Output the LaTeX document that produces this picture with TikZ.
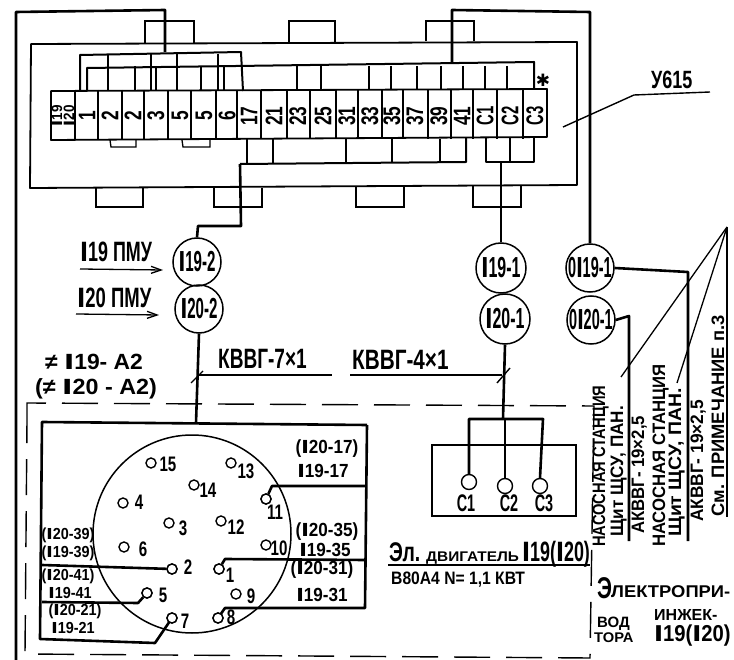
\documentclass[tikz,border=0pt]{standalone}
\usepackage{graphicx}
\usepackage{fontspec}
\setmainfont{Liberation Sans}
\newfontfamily\symfont{DejaVu Sans}
\usetikzlibrary{arrows.meta}
\newcommand{\bb}{\scalebox{1.6}[1]{I}}
\newcommand{\T}[3]{\scalebox{#2}[1]{\fontsize{#1}{#1}\selectfont\bfseries #3}}
\tikzset{
  wire/.style={line width=2.6pt,line join=round},
  wirem/.style={line width=2pt,line join=round},
  boxl/.style={line width=1.8pt,line join=round},
  thinl/.style={line width=1.3pt},
  tag/.style={draw,circle,line width=1.5pt,minimum size=48pt,inner sep=0pt},
  pin/.style={draw,circle,line width=1.4pt,minimum size=10pt,inner sep=0pt,fill=white},
  term/.style={draw,circle,line width=1.4pt,minimum size=15pt,inner sep=0pt,fill=white},
  txt/.style={inner sep=0pt},
  cell/.style={inner sep=0pt,rotate=90},
  vert/.style={inner sep=0pt,rotate=90,anchor=base west}
}
\begin{document}
\begin{tikzpicture}[x=1pt,y=-1pt]
\useasboundingbox (0,0) rectangle (734,660);
% panel
\draw[boxl] (31,44) -- (577,42) -- (577,185) -- (30,188) -- cycle;
\foreach \a/\b/\yy in {145/194/43,289/335/43,426/474/41}
  \draw[line width=1.4pt] (\a,\yy) -- (\a,21) -- (\b,21) -- (\b,\yy);
\foreach \a/\b/\yy in {96/143/188,214/262/188,356/404/187,473/521/186}
  \draw[line width=1.4pt] (\a,\yy) -- (\a,207) -- (\b,207) -- (\b,\yy);
% strip
\draw[boxl] (51,91) -- (547,89) -- (547,137) -- (51,140) -- cycle;
\foreach \x in {75,98,122,144,168,191,216,237,261,287,310,336,358,382,403,428,451,473,497,523}
  \draw[line width=1.3pt] (\x,90) -- (\x,139);
\foreach \a/\t in {87/1,110/2,133/2,156/3,180/5,204/5,227/6,249/17,274/21,298/23,323/25,347/31,370/33,392/35,415/37,439/39,462/41}
  \node[cell] at (\a,116) {\T{24}{.72}{\t}};
\foreach \a/\t in {485/C1,510/C2,535/C3}
  \node[cell] at (\a,116) {\T{24}{.62}{\t}};
\node[cell] (u19) at (57,116) {\T{15}{.9}{\bb19}};
\node[cell] (u20) at (69,116) {\T{15}{.9}{\bb20}};
\node[txt] (star) at (543,80) {\symfont\fontsize{17}{17}\selectfont ✱};
% stubs under the strip
\draw[thinl] (110,140) -- (111,147) -- (136,147) -- (136,140);
\draw[thinl] (182,140) -- (183,147) -- (210,147) -- (210,140);
% tags
\node[tag] (a19) at (197,262) {\T{29}{.52}{\bb19-2}};
\node[tag] (a20) at (199,309) {\T{29}{.52}{\bb20-2}};
\node[tag,minimum size=50pt] (b19) at (501,268) {\T{29}{.55}{\bb19-1}};
\node[tag,minimum size=50pt] (b20) at (505,319) {\T{29}{.55}{\bb20-1}};
\node[tag] (c19) at (590,268) {\T{29}{.5}{0\bb19-1}};
\node[tag] (c20) at (591,320) {\T{29}{.5}{0\bb20-1}};
% top wires
\coordinate (jA) at (165,52);
\coordinate (jB) at (452,63);
\draw[wire] (jA) -- (165,10) -- (16,12) -- (16,660);
\draw[wire] (jB) -- (452,10) -- (590,12) -- (c19.north);
\draw[wirem] (80,91) -- (80,55) -- (241,52) -- (243,91);
\foreach \x in {108,151,177,218} \draw[wirem] (\x,54) -- (\x,91);
\draw[wirem] (87,91) -- (87,68) -- (534,62) -- (534,89);
\foreach \x in {135,156,201,224,297,321,369,391,417,441,463,485,507}
  \draw[wirem] (\x,66) -- (\x,90);
% bottom wires
\draw[wirem] (240,164) -- (466,162) -- (466,138);
\foreach \x in {247,273,346,392,440} \draw[wirem] (\x,139) -- (\x,163);
\draw[wire] (240,164) -- (241,226) -- (198,226) -- (a19.north);
\draw[wirem] (486,138) -- (486,162) -- (534,162) -- (534,137);
\draw[wirem] (510,138) -- (510,162);
\draw[wire] (501,162) -- (b19.north);
% wires to the right
\draw[wire] (c19.east) -- (688,272) -- (688,541);
\draw[wire] (c20.east) -- (629,316) -- (629,541);
% leaders
\coordinate (lead) at (727,227);
\draw[thinl] (lead) -- (621,377);
\draw[thinl] (lead) -- (677,383);
\draw[thinl] (lead) -- (727,517);
\draw[line width=1.4pt] (563,127) -- (634,95) -- (710,92);
\node[txt,anchor=base west] (u) at (651,89) {\T{25}{.72}{У615}};
% left labels
\node[txt,anchor=base west] (l19) at (80,262) {\T{28}{.64}{\bb19 ПМУ}};
\node[txt,anchor=base west] (l20) at (77,308) {\T{28}{.66}{\bb20 ПМУ}};
\coordinate (ar1) at (80,269); \coordinate (ar2) at (76,314);
\draw[thinl,-{Straight Barb[length=10pt,width=7pt]}] (ar1) -- (163,270);
\draw[thinl,-{Straight Barb[length=10pt,width=7pt]}] (ar2) -- (159,315);
\node[txt,anchor=base west] (n19) at (45,370) {\T{22}{1.04}{≠ \bb19- А2}};
\node[txt,anchor=base west] (n20) at (35,395) {\T{22}{1.06}{(≠ \bb20 - А2)}};
% cable
\draw[wire] (a20.south) -- (196,423);
\draw[wire] (b20.south) -- (503,419);
\draw[thinl] (199,375) -- (332,375);
\draw[thinl] (350,375) -- (502,375);
\draw[line width=1.4pt] (191,383) -- (203,371);
\draw[line width=1.4pt] (497,383) -- (510,368);
\node[txt,anchor=base west] (k7) at (218,369) {\T{28}{.68}{КВВГ-7×1}};
\node[txt,anchor=base west] (k4) at (352,370) {\T{28}{.74}{КВВГ-4×1}};
% dashed border
\draw[line width=1.4pt,dash pattern=on 36pt off 16pt] (27,420) -- (27,403) -- (594,406) -- (590,658) -- (25,654) -- cycle;
% connector box
\draw[wire] (367,425) -- (42,422) -- (40,639) -- (155,643) -- (172,618);
\draw[wire] (367,425) -- (365,608) -- (225,608) -- (218,618);
\draw[line width=1.5pt] (192,534) circle (99);
\foreach \n/\x/\y in {15/151/463,13/231/463,14/194/485,4/123/503,11/266/499,3/169/523,12/221/521,6/124/547,10/266/545,2/172/569,1/219/569,5/147/593,9/236/594,7/172/618,8/218/618}
  \node[pin] (p\n) at (\x,\y) {};
\draw[wire] (365,486) -- (272,486) -- (p11);
\draw[wire] (365,560) -- (225,559) -- (p1);
\draw[wire] (42,565) -- (p2);
\draw[wire] (42,602) -- (138,603) -- (p5);
\foreach \n/\x/\y in {11/266/499,2/172/569,1/219/569,5/147/593,7/172/618,8/218/618}
  \node[pin] at (\x,\y) {};
\foreach \t/\x/\y in {15/168/464,13/246/471,14/208/490,4/139/502,11/275/512,3/183/528,12/236/527,6/143/549,10/279/548,2/188/567,1/230/575,5/163/595,9/251/596,7/185/621,8/231/617}
  \node[txt] at (\x,\y) {\T{21}{.72}{\t}};
\foreach \t/\x/\y in {(\bb20-17)/327/449,\bb19-17/323/471,(\bb20-35)/327/532,\bb19-35/325/550,(\bb20-31)/322/570,\bb19-31/322/595}
  \node[txt] at (\x,\y) {\T{19}{.9}{\t}};
\foreach \t/\x/\y in {(\bb20-39)/68/535,(\bb19-39)/68/553,(\bb20-41)/68/576,\bb19-41/70/593,(\bb20-21)/75/611,\bb19-21/73/628}
  \node[txt] at (\x,\y) {\T{16}{.9}{\t}};
% motor box
\draw[line width=1.4pt] (432,445) rectangle (576,516);
\node[term] (t1) at (469,482) {};
\node[term] (t2) at (505,486) {};
\node[term] (t3) at (540,486) {};
\draw[wire] (t1.north) -- (469,419) -- (543,419) -- (t3.north);
\draw[wire] (505,419) -- (t2.north);
\foreach \t/\x in {C1/466,C2/509,C3/544} \node[txt] at (\x,503) {\T{24}{.6}{\t}};
% motor text
\node[txt,anchor=base west] (m1) at (389,561) {\T{27}{.72}{Эл.}};
\node[txt,anchor=base west] (m1b) at (426,561) {\T{14}{1.1}{ДВИГАТЕЛЬ}};
\node[txt,anchor=base west] (m1c) at (522,561) {\T{28}{.64}{\bb19(\bb20)}};
\draw[line width=1.4pt] (388,565) -- (590,565);
\node[txt,anchor=base west] (m2) at (391,584) {\T{18}{.87}{В80А4 N= 1,1 КВТ}};
\node[txt,anchor=base west] (e1a) at (597,598) {\T{30}{.7}{Э}};
\node[txt,anchor=base west] (e1) at (611,597) {\T{17}{1.08}{ЛЕКТРОПРИ-}};
\node[txt,anchor=base west] (e2a) at (597,627) {\T{15}{1}{ВОД}};
\node[txt,anchor=base west] (e2) at (654,620) {\T{16}{1}{ИНЖЕК-}};
\node[txt,anchor=base west] (e3) at (594,642) {\T{14}{1.05}{ТОРА}};
\node[txt,anchor=base west] (e3b) at (654,641) {\T{23}{.88}{\bb19(\bb20)}};
% rotated notes
\node[vert] at (605,547) {\T{18}{.82}{НАСОСНАЯ  СТАНЦИЯ}};
\node[vert] at (623,537) {\T{18}{.95}{Щит ЩСУ, ПАН.}};
\node[vert] at (644,534) {\T{18}{.93}{АКВВГ- 19×2,5}};
\node[vert] at (665,547) {\T{18}{.93}{НАСОСНАЯ  СТАНЦИЯ}};
\node[vert] at (681,537) {\T{18}{1.08}{Щит ЩСУ, ПАН.}};
\node[vert] at (703,522) {\T{18}{.96}{АКВВГ- 19×2,5}};
\node[vert] at (724,517) {\T{18}{1.02}{См.  ПРИМЕЧАНИЕ  п.3}};
\end{tikzpicture}
\end{document}
